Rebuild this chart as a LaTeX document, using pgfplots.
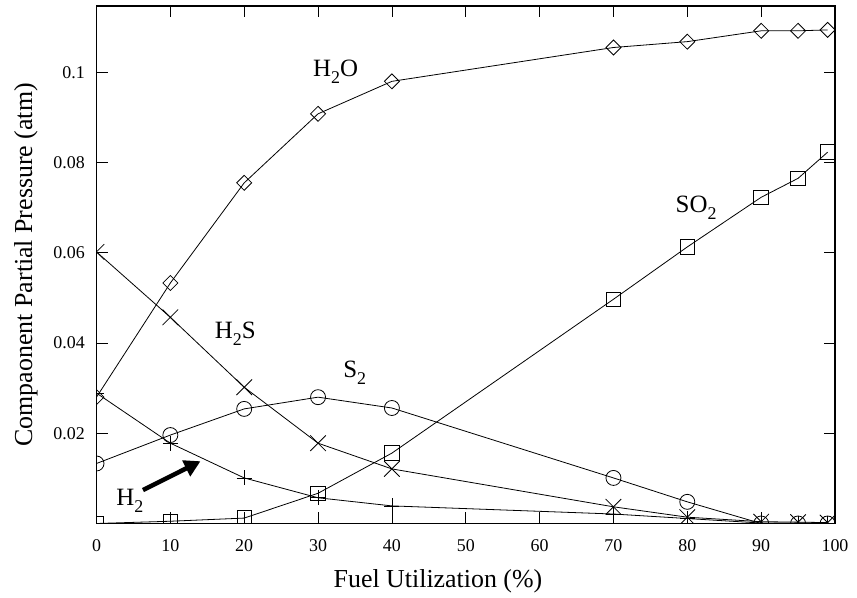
\documentclass[border=0pt]{standalone}
\usepackage{fontspec}
\setmainfont{Liberation Serif}
\usepackage{pgfplots}
\pgfplotsset{compat=1.18}
\usetikzlibrary{arrows.meta}
\newcommand\sub[1]{\raisebox{-7bp}{\fontsize{18}{18}\selectfont #1}}
\begin{document}
\begin{tikzpicture}
\begin{axis}[
  name=ax,
  scale only axis,
  width=738.5bp, height=517.5bp,
  xmin=0, xmax=100, ymin=0, ymax=0.1147,
  clip marker paths=true,
  xtick={0,10,20,30,40,50,60,70,80,90,100},
  xticklabels={0,10,20,30,40,50,60,70,80,90,100},
  ytick={0.02,0.04,0.06,0.08,0.1},
  yticklabels={0.02,0.04,0.06,0.08,0.1},
  tick align=inside,
  major tick length=11bp,
  axis line style={line width=1.2bp},
  every tick/.style={black, line width=0.8bp},
  xticklabel style={anchor=base, inner sep=0pt, yshift=-27.5bp, font=\fontsize{18}{20}\selectfont},
  yticklabel style={anchor=east, inner sep=0pt, xshift=-11.5bp, font=\fontsize{18}{20}\selectfont},
  xlabel={Fuel Utilization (\%)},
  ylabel={Compaonent Partial Pressure (atm)},
  xlabel style={at={(axis description cs:0.4624,-0.1246)}, anchor=base, inner sep=0pt, font=\fontsize{26}{30}\selectfont},
  ylabel style={at={(axis description cs:-0.0873,0.5)}, anchor=base, inner sep=0pt, font=\fontsize{26}{30}\selectfont},
  every axis plot/.append style={black, line width=0.8bp, mark options={solid, line width=0.8bp}},
]
% H2O
\addplot[mark=square, mark size=5.3bp, mark options={rotate=45}] coordinates {
(0,0.028)(10,0.0533)(20,0.0755)(30,0.0908)(40,0.098)(70,0.1055)(80,0.1068)(90,0.1092)(95,0.1092)(99,0.1094)};
% SO2
\addplot[mark=square, mark size=7.3bp] coordinates {
(0,0)(10,0.0005)(20,0.0012)(30,0.0067)(40,0.0156)(70,0.0497)(80,0.0613)(90,0.0723)(95,0.0765)(99,0.0823)};
% S2
\addplot[mark=o, mark size=7.5bp] coordinates {
(0,0.0133)(10,0.0196)(20,0.0254)(30,0.028)(40,0.0256)(70,0.0101)(80,0.0048)(90,0)(95,0)(99,0)};
% H2S
\addplot[mark=x, mark size=11bp] coordinates {
(0,0.0602)(10,0.0457)(20,0.0302)(30,0.0178)(40,0.0121)(70,0.0037)(80,0.0014)(90,0.0004)(95,0.0003)(99,0.0002)};
% H2
\addplot[mark=+, mark size=7.5bp] coordinates {
(0,0.0289)(10,0.0178)(20,0.0101)(30,0.0057)(40,0.0039)(70,0.0021)(80,0.0011)(90,0.0001)(95,0.0001)(99,0.0001)};

\node[anchor=base west, inner sep=0pt, font=\fontsize{25}{28}\selectfont] at (axis cs:29.3,0.0991) {H\sub{2}O};
\node[anchor=base west, inner sep=0pt, font=\fontsize{25}{28}\selectfont] at (axis cs:16.0,0.0411) {H\sub{2}S};
\node[anchor=base west, inner sep=0pt, font=\fontsize{25}{28}\selectfont] at (axis cs:33.4,0.0324) {S\sub{2}};
\node[anchor=base west, inner sep=0pt, font=\fontsize{25}{28}\selectfont] at (axis cs:78.4,0.069) {SO\sub{2}};
\node[anchor=base west, inner sep=0pt, font=\fontsize{25}{28}\selectfont] at (axis cs:2.65,0.0041) {H\sub{2}};
\draw[line width=4.5bp, -{Triangle[length=16bp,width=17bp]}] (axis cs:6.29,0.0074) -- (axis cs:14.08,0.0138);
\end{axis}
\pgfresetboundingbox
\useasboundingbox ([xshift=-96.5bp,yshift=-74.5bp]ax.south west) rectangle ([xshift=22bp,yshift=6bp]ax.north east);
\end{tikzpicture}
\end{document}
